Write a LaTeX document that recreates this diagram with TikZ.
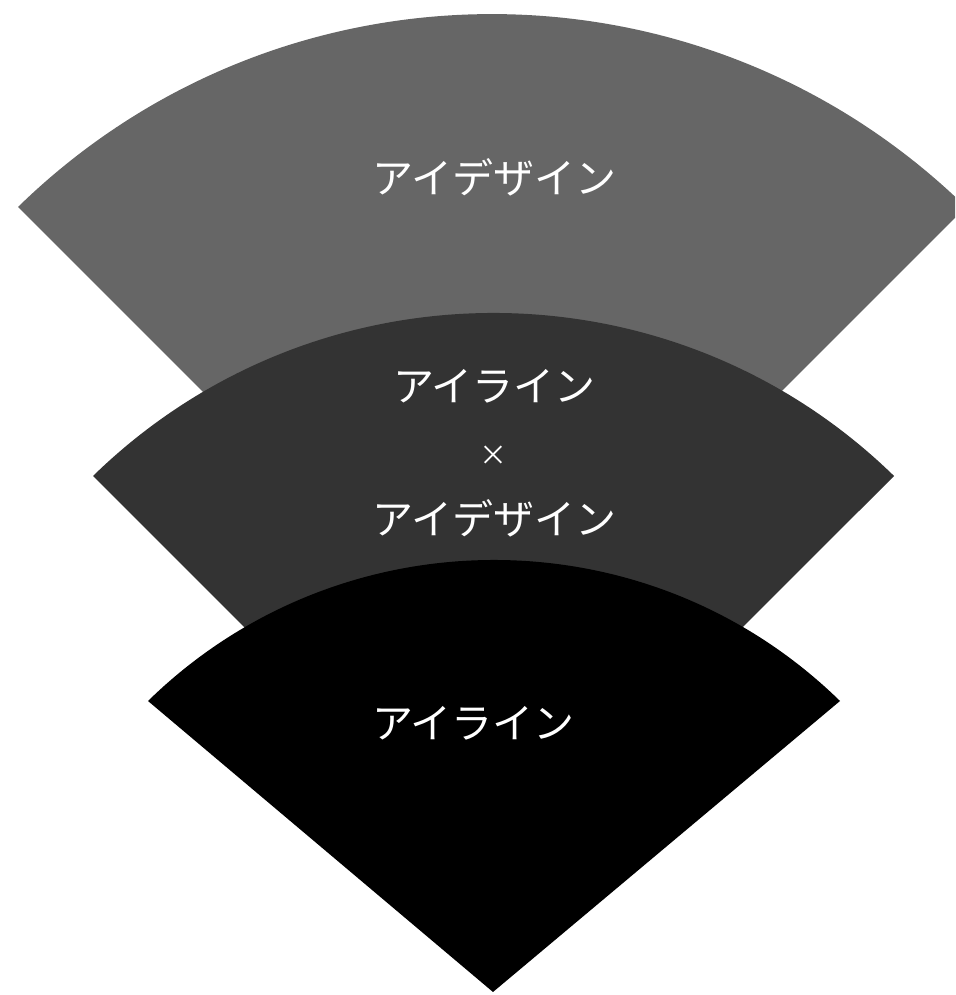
\documentclass[tikz,border=0pt]{standalone}
\usepackage{fontspec}
\newfontfamily\jp{Noto Sans CJK JP}
\definecolor{fanA}{HTML}{666666}
\definecolor{fanB}{HTML}{333333}
\definecolor{fanC}{HTML}{000000}
\tikzset{
  lbl/.style={text=white, inner sep=0pt, anchor=base, font=\jp\fontsize{41}{41}\selectfont},
  cross/.style={text=white, inner sep=0pt, anchor=center, font=\jp\fontsize{28}{28}\selectfont}
}
\begin{document}
\begin{tikzpicture}[x=1pt,y=1pt]
\useasboundingbox (0,0) rectangle (955,995);
\begin{scope}
\clip (0,0) rectangle (955,995);
% top fan (gray)
\fill[fanA] (492,314) -- (18,788) arc[start angle=134.3, end angle=45.7, radius=678.6] -- cycle;
% middle fan (dark gray)
\fill[fanB] (493.5,119) -- (93,519) arc[start angle=134.3, end angle=45.7, radius=573.5] -- cycle;
% bottom fan (black)
\fill[fanC] (493,3) -- (148,294) arc[start angle=134.35, end angle=45.65, radius=495] -- cycle;
\end{scope}
\node[lbl] (t1) at (494.5,801.5) {アイデザイン};
\node[lbl] (t2) at (494.5,593.5) {アイライン};
\node[cross] (tx) at (493,539) {×};
\node[lbl] (t3) at (494.5,460.5) {アイデザイン};
\node[lbl] (t4) at (473.5,256.5) {アイライン};
\end{tikzpicture}
\end{document}
